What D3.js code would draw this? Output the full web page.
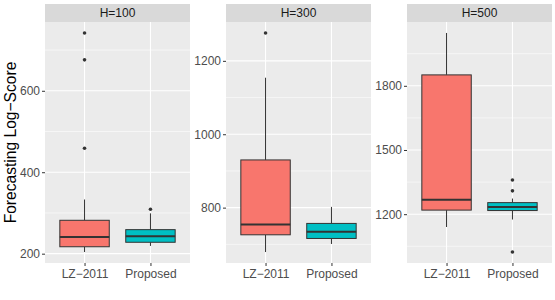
<!DOCTYPE html>
<html>
<head>
<meta charset="utf-8">
<script src="https://cdn.jsdelivr.net/npm/d3@7"></script>
<style>
  body { margin: 0; background: #fff; }
  text { font-family: "Liberation Sans", Arial, sans-serif; }
</style>
</head>
<body>
<div id="container"></div>
<script>
// 1. Data
const horizons = ["H=100", "H=300", "H=500"]
const methods = ["LZ-2011", "Proposed"]
const methodLabels = ["LZ\u22122011", "Proposed"]
const fills = ["#F8766D", "#00BFC4"]

// five-number summaries per horizon: [lower whisker, q1, median, q3, upper whisker]
const statsH100 = [[204, 217, 241, 282, 333], [219, 228, 243, 259, 299]]
const statsH300 = [[679, 726, 754, 930, 1154], [701, 716, 734, 757, 802]]
const statsH500 = [[1140, 1219, 1268, 1851, 2047], [1175, 1217, 1234, 1254, 1273]]

const outliersH100 = [[459, 676, 742], [309]]
const outliersH300 = [[1276], []]
const outliersH500 = [[], [1023, 1309, 1360]]

const ticksH100 = [200, 400, 600]
const ticksH300 = [800, 1000, 1200]
const ticksH500 = [1200, 1500, 1800]
const minorH100 = [300, 500, 700]
const minorH300 = [700, 900, 1100]
const minorH500 = [1050, 1350, 1650, 1950]

const panels = [
  { label: horizons[0], stats: statsH100, outliers: outliersH100, ticks: ticksH100, minor: minorH100 },
  { label: horizons[1], stats: statsH300, outliers: outliersH300, ticks: ticksH300, minor: minorH300 },
  { label: horizons[2], stats: statsH500, outliers: outliersH500, ticks: ticksH500, minor: minorH500 },
]

// 2. Dimensions
const width = 555
const height = 300
const panelLefts = [45, 226, 407]
const panelWidth = 145
const stripTop = 4
const stripHeight = 18
const panelTop = stripTop + stripHeight
const panelBottom = 263

// 3. Canvas
const svg = d3.select("#container")
  .append("svg")
  .attr("width", width)
  .attr("height", height)

svg.append("text")
  .attr("transform", `translate(16, ${(panelTop + panelBottom) / 2}) rotate(-90)`)
  .attr("text-anchor", "middle")
  .attr("font-size", 15.6)
  .attr("fill", "#000")
  .text("Forecasting Log\u2212Score")

// 4. Panels
panels.forEach((p, i) => {
  const left = panelLefts[i]
  const g = svg.append("g").attr("transform", `translate(${left},0)`)

  const all = p.stats.flat().concat(p.outliers.flat())
  const [lo, hi] = d3.extent(all)
  const pad = (hi - lo) * 0.05
  const y = d3.scaleLinear().domain([lo - pad, hi + pad]).range([panelBottom, panelTop])
  // ggplot discrete expansion: 0.6 units on each side of positions 1..2
  const x = d3.scaleLinear().domain([0.4, 2.6]).range([0, panelWidth])
  const boxW = x(0.75) - x(0)

  // strip
  g.append("rect")
    .attr("x", 0).attr("y", stripTop)
    .attr("width", panelWidth).attr("height", stripHeight)
    .attr("fill", "#d9d9d9")
  g.append("text")
    .attr("x", panelWidth / 2).attr("y", stripTop + stripHeight / 2 + 4.3)
    .attr("text-anchor", "middle")
    .attr("font-size", 12)
    .attr("fill", "#1a1a1a")
    .text(p.label)

  // background
  g.append("rect")
    .attr("x", 0).attr("y", panelTop)
    .attr("width", panelWidth).attr("height", panelBottom - panelTop)
    .attr("fill", "#ebebeb")

  g.selectAll(".minor")
    .data(p.minor)
    .join("line")
    .attr("x1", 0).attr("x2", panelWidth)
    .attr("y1", d => y(d)).attr("y2", d => y(d))
    .attr("stroke", "#fff").attr("stroke-width", 0.55)

  g.selectAll(".major")
    .data(p.ticks)
    .join("line")
    .attr("x1", 0).attr("x2", panelWidth)
    .attr("y1", d => y(d)).attr("y2", d => y(d))
    .attr("stroke", "#fff").attr("stroke-width", 1.1)

  g.selectAll(".vmajor")
    .data(methods)
    .join("line")
    .attr("x1", (d, j) => x(j + 1)).attr("x2", (d, j) => x(j + 1))
    .attr("y1", panelTop).attr("y2", panelBottom)
    .attr("stroke", "#fff").attr("stroke-width", 1.1)

  // y axis
  const yAxis = d3.axisLeft(y).tickValues(p.ticks).tickFormat(d3.format("d")).tickSize(3).tickPadding(2)
  const ya = g.append("g").call(yAxis)
  ya.select(".domain").remove()
  ya.selectAll(".tick line").attr("stroke", "#333").attr("stroke-width", 1)
  ya.selectAll(".tick text")
    .attr("font-size", 12)
    .attr("fill", "#4d4d4d")
    .attr("font-family", "Liberation Sans, Arial, sans-serif")

  // x axis
  const xAxis = d3.axisBottom(x).tickValues([1, 2]).tickFormat((d, j) => methodLabels[j]).tickSize(3).tickPadding(3)
  const xa = g.append("g").attr("transform", `translate(0,${panelBottom})`).call(xAxis)
  xa.select(".domain").remove()
  xa.selectAll(".tick line").attr("stroke", "#333").attr("stroke-width", 1)
  xa.selectAll(".tick text")
    .attr("font-size", 12)
    .attr("fill", "#4d4d4d")
    .attr("font-family", "Liberation Sans, Arial, sans-serif")

  // boxes
  p.stats.forEach((s, j) => {
    const cx = x(j + 1)
    const [w0, q1, med, q3, w1] = s
    g.append("line")
      .attr("x1", cx).attr("x2", cx)
      .attr("y1", y(w0)).attr("y2", y(q1))
      .attr("stroke", "#333").attr("stroke-width", 1)
    g.append("line")
      .attr("x1", cx).attr("x2", cx)
      .attr("y1", y(q3)).attr("y2", y(w1))
      .attr("stroke", "#333").attr("stroke-width", 1)
    g.append("rect")
      .attr("x", cx - boxW / 2).attr("y", y(q3))
      .attr("width", boxW).attr("height", y(q1) - y(q3))
      .attr("fill", fills[j])
      .attr("stroke", "#333").attr("stroke-width", 1)
    g.append("line")
      .attr("x1", cx - boxW / 2).attr("x2", cx + boxW / 2)
      .attr("y1", y(med)).attr("y2", y(med))
      .attr("stroke", "#333").attr("stroke-width", 2)

    g.selectAll(`.out${j}`)
      .data(p.outliers[j])
      .join("circle")
      .attr("cx", cx).attr("cy", d => y(d))
      .attr("r", 1.8)
      .attr("fill", "#333")
  })
})
</script>
</body>
</html>
